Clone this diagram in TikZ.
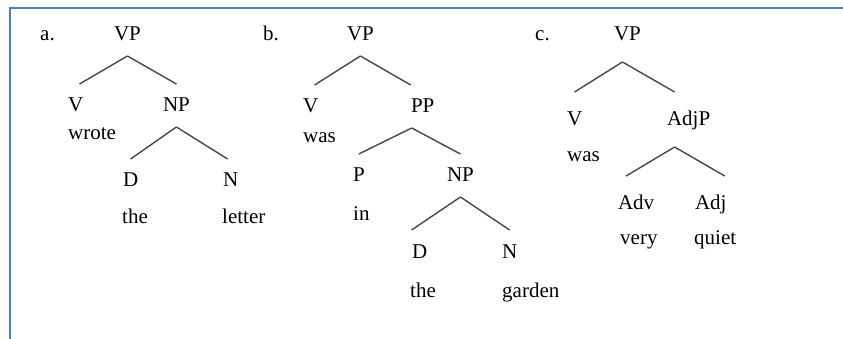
\documentclass[tikz,border=0pt]{standalone}
\usepackage{fontspec}
\setmainfont{Liberation Serif}
\definecolor{frameblue}{RGB}{74,126,192}

\begin{document}
\begin{tikzpicture}[x=1pt,y=-1pt,
  lbl/.style={anchor=base west,inner sep=0pt,font=\fontsize{21}{25}\selectfont},
  cat/.style={lbl,text height=13pt,text depth=0pt,outer xsep=0pt,outer ysep=15pt},
  branch/.style={line width=1.4pt,black!72}]

\useasboundingbox (0,0) rectangle (843,339);

% frame, top and left only
\draw[frameblue, line width=2.2pt] (843,8) -- (10,8) -- (10,339);

% a. wrote the letter
\node[lbl] (itemA) at (40,41) {a.};
\node[cat] (vpA) at (114,41) {VP};
\node[cat] (vA) at (68,112) {V};
\node[lbl] (wroteA) at (68,140) {wrote};
\node[cat] (npA) at (163,112) {NP};
\node[cat] (dA) at (123,187) {D};
\node[lbl] (theA) at (122,223) {the};
\node[cat] (nA) at (223,187) {N};
\node[lbl] (letterA) at (222,223) {letter};

\draw[branch] (vpA.south) -- ([xshift=4pt]vA.north);
\draw[branch] (vpA.south) -- (npA.north);
\draw[branch] (npA.south) -- (dA.north);
\draw[branch] (npA.south) -- ([xshift=-3pt]nA.north);

% b. was in the garden
\node[lbl] (itemB) at (263,41) {b.};
\node[cat] (vpB) at (347,41) {VP};
\node[cat] (vB) at (303,113) {V};
\node[lbl] (wasB) at (303,143) {was};
\node[cat] (ppB) at (411,113) {PP};
\node[cat] (pB) at (353,182) {P};
\node[lbl] (inB) at (353,220) {in};
\node[cat] (npB) at (447,182) {NP};
\node[cat] (dB) at (412,258) {D};
\node[lbl] (theB) at (410,297) {the};
\node[cat] (nB) at (502,258) {N};
\node[lbl] (gardenB) at (502,297) {garden};

\draw[branch] (vpB.south) -- ([xshift=4pt]vB.north);
\draw[branch] (vpB.south) -- ([xshift=-12pt]ppB.north);
\draw[branch] ([xshift=-11pt]ppB.south) -- (pB.north);
\draw[branch] ([xshift=-11pt]ppB.south) -- (npB.north);
\draw[branch] (npB.south) -- ([xshift=-8pt]dB.north);
\draw[branch] (npB.south) -- (nB.north);

% c. was very quiet
\begin{scope}[cat/.append style={outer ysep=21pt}]
\node[lbl] (itemC) at (535,41) {c.};
\node[cat] (vpC) at (614,41) {VP};
\node[cat] (vC) at (567,126) {V};
\node[lbl] (wasC) at (567,162) {was};
\node[cat] (adjpC) at (667,126) {AdjP};
\node[cat] (advC) at (618,210) {Adv};
\node[lbl] (veryC) at (620,244) {very};
\node[cat] (adjC) at (695,210) {Adj};
\node[lbl] (quietC) at (694,244) {quiet};

\draw[branch] ([xshift=-5pt]vpC.south) -- (vC.north);
\draw[branch] ([xshift=-5pt]vpC.south) -- ([xshift=-14pt]adjpC.north);
\draw[branch] ([xshift=-14pt]adjpC.south) -- ([xshift=-10pt]advC.north);
\draw[branch] ([xshift=-14pt]adjpC.south) -- ([xshift=14pt]adjC.north);
\end{scope}

\end{tikzpicture}
\end{document}
